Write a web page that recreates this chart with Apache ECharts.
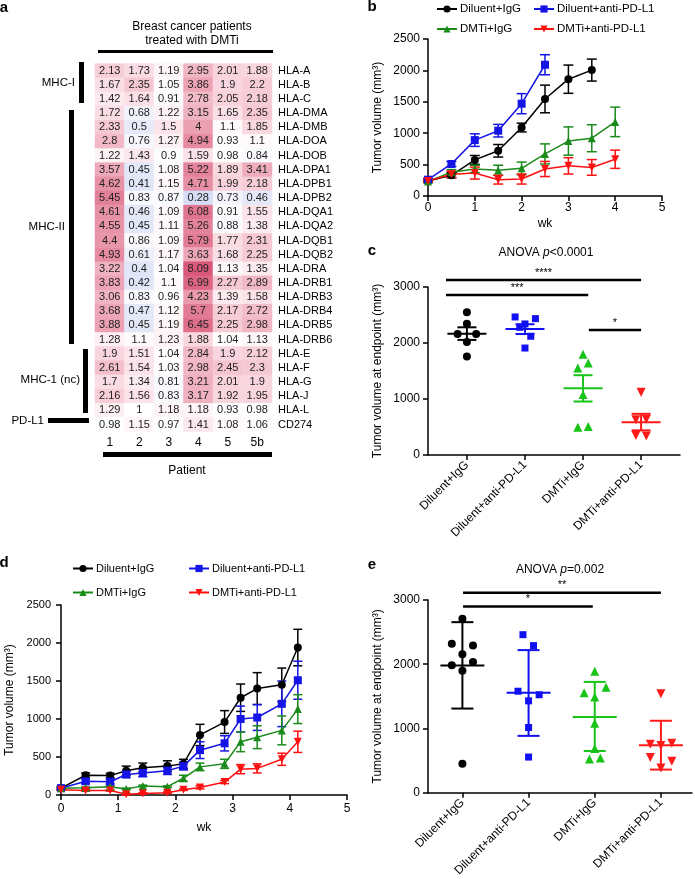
<!DOCTYPE html>
<html><head><meta charset="utf-8">
<script src="https://cdn.jsdelivr.net/npm/echarts@6/dist/echarts.min.js"></script>
<style>html,body{margin:0;padding:0;background:#fff}#c{width:695px;height:879px}</style>
</head><body><div id="c"></div>
<script>
// ---------- Panel a: heatmap ----------
const heatCols = ['1','2','3','4','5','5b'];
const heatRows = ['HLA-A','HLA-B','HLA-C','HLA-DMA','HLA-DMB','HLA-DOA','HLA-DOB','HLA-DPA1','HLA-DPB1','HLA-DPB2','HLA-DQA1','HLA-DQA2','HLA-DQB1','HLA-DQB2','HLA-DRA','HLA-DRB1','HLA-DRB3','HLA-DRB4','HLA-DRB5','HLA-DRB6','HLA-E','HLA-F','HLA-G','HLA-J','HLA-L','CD274'];
const heatVals = [
[2.13,1.73,1.19,2.95,2.01,1.88],
[1.67,2.35,1.05,3.86,1.9,2.2],
[1.42,1.64,0.91,2.78,2.05,2.18],
[1.72,0.68,1.22,3.15,1.65,2.35],
[2.33,0.5,1.5,4,1.1,1.85],
[2.8,0.76,1.27,4.94,0.93,1.1],
[1.22,1.43,0.9,1.59,0.98,0.84],
[3.57,0.45,1.08,5.22,1.89,3.41],
[4.62,0.41,1.15,4.71,1.99,2.18],
[5.45,0.83,0.87,0.28,0.73,0.46],
[4.61,0.46,1.09,6.08,0.91,1.55],
[4.55,0.45,1.11,5.26,0.88,1.38],
[4.4,0.86,1.09,5.79,1.77,2.31],
[4.93,0.61,1.17,3.63,1.68,2.25],
[3.22,0.4,1.04,8.09,1.13,1.35],
[3.83,0.42,1.1,6.99,2.27,2.89],
[3.06,0.83,0.96,4.23,1.39,1.58],
[3.68,0.47,1.12,5.7,2.17,2.72],
[3.88,0.45,1.19,6.45,2.25,2.98],
[1.28,1.1,1.23,1.88,1.04,1.13],
[1.9,1.51,1.04,2.84,1.9,2.12],
[2.61,1.54,1.03,2.98,2.45,2.3],
[1.7,1.34,0.81,3.21,2.01,1.9],
[2.16,1.56,0.83,3.17,1.92,1.95],
[1.29,1,1.18,1.18,0.93,0.98],
[0.98,1.15,0.97,1.41,1.08,1.06]];

// ---------- Panel b ----------
const seriesNames = ['Diluent+IgG','Diluent+anti-PD-L1','DMTi+IgG','DMTi+anti-PD-L1'];
const weeksB = [0,0.5,1,1.5,2,2.5,3,3.5,4];
const bDilIgG = [240,330,575,720,1090,1545,1860,2005];
const bDilIgGErr = [20,40,70,100,70,220,225,175];
const bDilPD = [260,510,890,1040,1470,2090];
const bDilPDErr = [20,40,100,100,160,160];
const bDmtIgG = [230,380,430,410,440,670,875,920,1180];
const bDmtIgGErr = [20,40,60,80,100,160,225,215,235];
const bDmtPD = [240,345,365,260,270,430,480,455,585];
const bDmtPDErr = [20,50,95,70,80,120,130,125,145];

// ---------- Panel c ----------
const groups = ['Diluent+IgG','Diluent+anti-PD-L1','DMTi+IgG','DMTi+anti-PD-L1'];
const cDilIgG = [2550,2345,2160,2160,2020,1760];
const cDilPD = [2465,2435,2340,2280,2120,1910];
const cDmtIgG = [1800,1555,1645,1080,495,510];
const cDmtPD = [1120,630,640,350,340];
const cMean = [2165,2250,1190,585];
const cSemLo = [2055,2160,955,440];
const cSemHi = [2280,2335,1425,735];
const cSig = [[-0.36,3.0,3125,'****'],[-0.36,2.09,2857,'***'],[2.1,3.0,2232,'*']];

// ---------- Panel d ----------
const weeksD = [0,0.43,0.86,1.14,1.43,1.86,2.14,2.43,2.86,3.14,3.43,3.86,4.14];
const dDilIgG = [90,260,255,320,360,380,410,790,960,1280,1400,1450,1940];
const dDilIgGErr = [20,30,30,60,60,70,60,140,150,180,210,220,240];
const dDilPD = [90,180,175,270,290,320,380,590,680,1000,1020,1200,1510];
const dDilPDErr = [20,30,30,40,50,50,50,110,100,170,170,300,250];
const dDmtIgG = [90,95,110,80,120,110,220,370,410,700,760,850,1130];
const dDmtIgGErr = [10,10,10,10,10,10,40,50,60,130,150,190,190];
const dDmtPD = [70,60,60,10,20,30,70,100,170,340,350,470,700];
const dDmtPDErr = [10,10,10,10,10,10,10,20,20,60,60,80,140];

// ---------- Panel e ----------
const eDilIgG = [2710,2320,2290,2155,2035,1985,1900,450];
const eDilPD = [2460,2290,1580,1525,1430,1015,555];
const eDmtIgG = [1890,1555,1640,1490,1080,690,525,540];
const eDmtPD = [1540,755,735,770,550,490,385];
const eMean = [1980,1555,1180,740];
const eSdLo = [1310,885,650,360];
const eSdHi = [2655,2220,1725,1120];
const eSig = [[0.01,3.0,3112,'**'],[0.01,1.97,2897,'*']];

// layout-only horizontal spread of dots within a group (category units)
const cSpread = [[0,0,-0.16,0.16,0,0],[-0.17,0.18,0,-0.09,0.1,0],[0,-0.09,0.09,0,-0.09,0.09],[0,-0.09,0.09,-0.09,0.09]];
const eSpread = [[0,-0.16,0.16,0,0.16,-0.16,0,0],[-0.085,0.075,-0.16,0.16,0,0,0],[0,-0.16,0.17,0,0,0,-0.08,0.085],[0,-0.16,0,0.165,-0.16,0.165,0]];

const FONT = 'Liberation Sans, Arial, Helvetica, sans-serif';
const COL_LINE = ['#000000','#1414e6','#1a8a1a','#ff1010'];
const COL_DOT = ['#000000','#1010f0','#18c418','#ff1a1a'];
const SYM = ['circle','rect','triangle','triangle'];
const ROT = [0,0,0,180];

// heatmap data
const heatData = [];
heatVals.forEach((row, r) => row.forEach((v, c) => heatData.push([c, r, v, Math.log2(v)])));

function errRender(capPx, lw) {
  return function (params, api) {
    const x = api.value(0), y = api.value(1), e = api.value(2);
    if (!e) return { type: 'group', children: [] };
    const t = api.coord([x, y + e]), b = api.coord([x, y - e]);
    const c = api.visual('color'), h = capPx / 2;
    const st = { stroke: c, lineWidth: lw };
    return { type: 'group', children: [
      { type: 'line', shape: { x1: t[0], y1: t[1], x2: b[0], y2: b[1] }, style: st },
      { type: 'line', shape: { x1: t[0]-h, y1: t[1], x2: t[0]+h, y2: t[1] }, style: st },
      { type: 'line', shape: { x1: b[0]-h, y1: b[1], x2: b[0]+h, y2: b[1] }, style: st }
    ]};
  };
}
function meanRender(meanPx, capPx, lw) {
  return function (params, api) {
    const x = api.value(0), m = api.value(1), lo = api.value(2), hi = api.value(3);
    const pm = api.coord([x, m]), pl = api.coord([x, lo]), ph = api.coord([x, hi]);
    const c = COL_DOT[params.dataIndex];
    const st = { stroke: c, lineWidth: lw };
    return { type: 'group', children: [
      { type: 'line', shape: { x1: pm[0]-meanPx/2, y1: pm[1], x2: pm[0]+meanPx/2, y2: pm[1] }, style: st },
      { type: 'line', shape: { x1: pl[0], y1: pl[1], x2: ph[0], y2: ph[1] }, style: st },
      { type: 'line', shape: { x1: pl[0]-capPx/2, y1: pl[1], x2: pl[0]+capPx/2, y2: pl[1] }, style: st },
      { type: 'line', shape: { x1: ph[0]-capPx/2, y1: ph[1], x2: ph[0]+capPx/2, y2: ph[1] }, style: st }
    ]};
  };
}
function sigRender(list) {
  return function (params, api) {
    const s = list[params.dataIndex];
    const a = api.coord([s[0], s[2]]), b = api.coord([s[1], s[2]]);
    return { type: 'group', children: [
      { type: 'line', shape: { x1: a[0], y1: a[1], x2: b[0], y2: b[1] }, style: { stroke: '#000', lineWidth: 2.5 } },
      { type: 'text', x: (a[0]+b[0])/2, y: a[1] - 2, style: { text: s[3], fill: '#000', font: '11px ' + FONT, align: 'center', verticalAlign: 'bottom' } }
    ]};
  };
}

const series = [];
// heatmap
series.push({ type: 'heatmap', xAxisIndex: 0, yAxisIndex: 0, data: heatData,
  label: { show: true, formatter: p => String(p.value[2]), fontSize: 11, color: '#222', fontFamily: FONT },
  itemStyle: { borderWidth: 0 }, emphasis: { disabled: true } });

// line panels b (axis 1) and d (axis 3)
function addLines(axisIdx, weeks, vals, errs, symSize, capPx) {
  vals.forEach((v, k) => {
    series.push({ type: 'custom', name: 'err' + axisIdx + '_' + k, xAxisIndex: axisIdx, yAxisIndex: axisIdx,
      renderItem: errRender(capPx, 1.5), itemStyle: { color: COL_LINE[k] }, z: 2,
      data: v.map((y, i) => [weeks[i], y, errs[k][i]]) });
  });
  vals.forEach((v, k) => {
    series.push({ type: 'line', name: seriesNames[k], xAxisIndex: axisIdx, yAxisIndex: axisIdx,
      data: v.map((y, i) => [weeks[i], y]), symbol: SYM[k], symbolRotate: ROT[k], symbolSize: symSize,
      lineStyle: { color: COL_LINE[k], width: 1.5 }, itemStyle: { color: COL_LINE[k] }, z: 3 });
  });
}
addLines(1, weeksB, [bDilIgG, bDilPD, bDmtIgG, bDmtPD], [bDilIgGErr, bDilPDErr, bDmtIgGErr, bDmtPDErr], 8, 10);
addLines(3, weeksD, [dDilIgG, dDilPD, dDmtIgG, dDmtPD], [dDilIgGErr, dDilPDErr, dDmtIgGErr, dDmtPDErr], 8, 9);

// dot plots c (axis 2) and e (axis 4)
function addDots(axisIdx, vals, spread, mean, lo, hi, sig, meanPx, capPx, symSize) {
  vals.forEach((v, k) => {
    series.push({ type: 'scatter', name: 'pts' + axisIdx + '_' + k, xAxisIndex: axisIdx, yAxisIndex: axisIdx,
      data: v.map((y, i) => [k + spread[k][i], y]), symbol: SYM[k], symbolRotate: ROT[k], symbolSize: symSize[k],
      itemStyle: { color: COL_DOT[k], opacity: 1 }, z: 3 });
  });
  series.push({ type: 'custom', name: 'mean' + axisIdx, xAxisIndex: axisIdx, yAxisIndex: axisIdx,
    renderItem: meanRender(meanPx, capPx, 2), z: 4,
    data: mean.map((m, i) => [i, m, lo[i], hi[i]]) });
  series.push({ type: 'custom', name: 'sig' + axisIdx, xAxisIndex: axisIdx, yAxisIndex: axisIdx,
    renderItem: sigRender(sig), clip: false, z: 4, data: sig.map(s => [s[0], s[2]]) });
}
addDots(2, [cDilIgG, cDilPD, cDmtIgG, cDmtPD], cSpread, cMean, cSemLo, cSemHi, cSig, 39, 19, [8, 7, 9, 9]);
addDots(4, [eDilIgG, eDilPD, eDmtIgG, eDmtPD], eSpread, eMean, eSdLo, eSdHi, eSig, 44, 22, [8, 7, 9, 9]);

const axLine = { show: true, onZero: false, lineStyle: { color: '#000', width: 1.5 } };
const axTick = { show: true, length: 5, lineStyle: { color: '#000', width: 1.5 } };
const lbl = (fs, m) => ({ fontSize: fs, color: '#000', margin: m, fontFamily: FONT, formatter: v => String(v) });

function lineX(grid, m, gap) {
  return { type: 'value', gridIndex: grid, min: 0, max: 5, interval: 1, axisLine: axLine, axisTick: axTick,
    splitLine: { show: false }, axisLabel: lbl(12, m), name: 'wk', nameLocation: 'middle', nameGap: gap,
    nameTextStyle: { fontSize: 12, color: '#000', fontFamily: FONT } };
}
function valY(grid, max, interval, name, gap, fs, m) {
  return { type: 'value', gridIndex: grid, min: 0, max: max, interval: interval, axisLine: axLine, axisTick: axTick,
    splitLine: { show: false }, axisLabel: lbl(fs, m), name: name, nameLocation: 'middle', nameGap: gap,
    nameTextStyle: { fontSize: 12, color: '#000', fontFamily: FONT } };
}
function catX(grid, min, max) {
  return { type: 'value', gridIndex: grid, min: min, max: max, axisLine: axLine,
    axisTick: Object.assign({}, axTick, { customValues: [0,1,2,3] }), splitLine: { show: false },
    axisLabel: { fontSize: 12, color: '#000', margin: 8, fontFamily: FONT, customValues: [0,1,2,3], rotate: 45, formatter: v => groups[Math.round(v)] } };
}

const legends = [];
function addLegend(name, left, top, fs) {
  legends.push({ data: [name], left: left, top: top, padding: 0, itemWidth: 20, itemHeight: 9, itemGap: 0,
    selectedMode: false, textStyle: { fontSize: fs, color: '#000', fontFamily: FONT, padding: [0,0,0,-2] } });
}
addLegend('Diluent+IgG', 436, 3, 11.5); addLegend('Diluent+anti-PD-L1', 533, 3, 11.5);
addLegend('DMTi+IgG', 436, 23, 11.5); addLegend('DMTi+anti-PD-L1', 533, 23, 11.5);
addLegend('Diluent+IgG', 72, 563, 11); addLegend('Diluent+anti-PD-L1', 188, 563, 11);
addLegend('DMTi+IgG', 72, 587, 11); addLegend('DMTi+anti-PD-L1', 188, 587, 11);

function txt(t, x, y, size, opt) {
  return { type: 'text', x: x, y: y, style: { text: t, fill: '#000',
    font: (opt && opt.bold ? 'bold ' : '') + size + 'px ' + FONT, align: (opt && opt.align) || 'center', verticalAlign: 'middle' } };
}
function bar(x, y, w, h) { return { type: 'rect', shape: { x: x, y: y, width: w, height: h }, style: { fill: '#000' } }; }
const italic = { i: { fontStyle: 'italic', fontSize: 12, fontFamily: FONT }, n: { fontSize: 12, fontFamily: FONT } };

const graphic = [
  txt('a', 4, 8, 15, { bold: true }), txt('b', 372, 7, 15, { bold: true }), txt('c', 372, 251, 15, { bold: true }),
  txt('d', 4, 563, 15, { bold: true }), txt('e', 372, 565, 15, { bold: true }),
  txt('Breast cancer patients', 192, 27, 12), txt('treated with DMTi', 192, 41, 12),
  bar(98, 50, 175, 3),
  bar(79, 62, 5, 41), bar(69, 110, 5, 234), bar(83, 349, 5, 64), bar(48, 418, 41, 5),
  txt('MHC-I', 75, 83, 11.5, { align: 'right' }), txt('MHC-II', 65, 227, 11.5, { align: 'right' }),
  txt('MHC-1 (nc)', 80, 380, 11.5, { align: 'right' }), txt('PD-L1', 44, 421, 11.5, { align: 'right' }),
  bar(103, 452, 169, 5), txt('Patient', 187, 471, 12),
  { type: 'text', x: 546, y: 253, style: { text: '{n|ANOVA }{i|p}{n|<0.0001}', rich: italic, fill: '#000', align: 'center', verticalAlign: 'middle', font: '12px ' + FONT } },
  { type: 'text', x: 560, y: 570, style: { text: '{n|ANOVA }{i|p}{n|=0.002}', rich: italic, fill: '#000', align: 'center', verticalAlign: 'middle', font: '12px ' + FONT } }
];

const option = {
  animation: false,
  textStyle: { fontFamily: FONT },
  grid: [
    { left: 95, top: 63.6, width: 177, height: 368 },
    { left: 428, top: 39, width: 234, height: 157 },
    { left: 428, top: 287, width: 252, height: 168 },
    { left: 61, top: 605, width: 286, height: 190 },
    { left: 428, top: 600, width: 264, height: 195 }
  ],
  xAxis: [
    { type: 'category', gridIndex: 0, data: heatCols, axisLine: { show: false }, axisTick: { show: false }, axisLabel: { fontSize: 12, color: '#000', margin: 5, fontFamily: FONT, interval: 0 }, splitLine: { show: false } },
    lineX(1, 6, 22),
    catX(2, -0.67, 3.67),
    lineX(3, 8, 27),
    catX(4, -0.52, 3.47)
  ],
  yAxis: [
    { type: 'category', gridIndex: 0, data: heatRows, inverse: true, position: 'right', axisLine: { show: false }, axisTick: { show: false }, axisLabel: { fontSize: 11, color: '#000', margin: 6, fontFamily: FONT, interval: 0, align: 'left' }, splitLine: { show: false } },
    valY(1, 2500, 500, 'Tumor volume (mm³)', 44, 12, 8),
    valY(2, 3000, 1000, 'Tumor volume at endpoint (mm³)', 44, 12, 8),
    valY(3, 2500, 500, 'Tumor volume (mm³)', 45, 11, 10),
    valY(4, 3000, 1000, 'Tumor volume at endpoint (mm³)', 44, 12, 8)
  ],
  visualMap: { type: 'continuous', show: false, seriesIndex: 0, dimension: 3, min: -3, max: 3,
    inRange: { color: ['#b7c3ee','#d3daf4','#e6eaf9','#ffffff','#f8d3dc','#eba0b2','#d9587a'] } },
  legend: legends,
  graphic: graphic,
  series: series
};
const chart = echarts.init(document.getElementById('c'), null, { renderer: 'canvas' });
chart.setOption(option);
</script></body></html>
